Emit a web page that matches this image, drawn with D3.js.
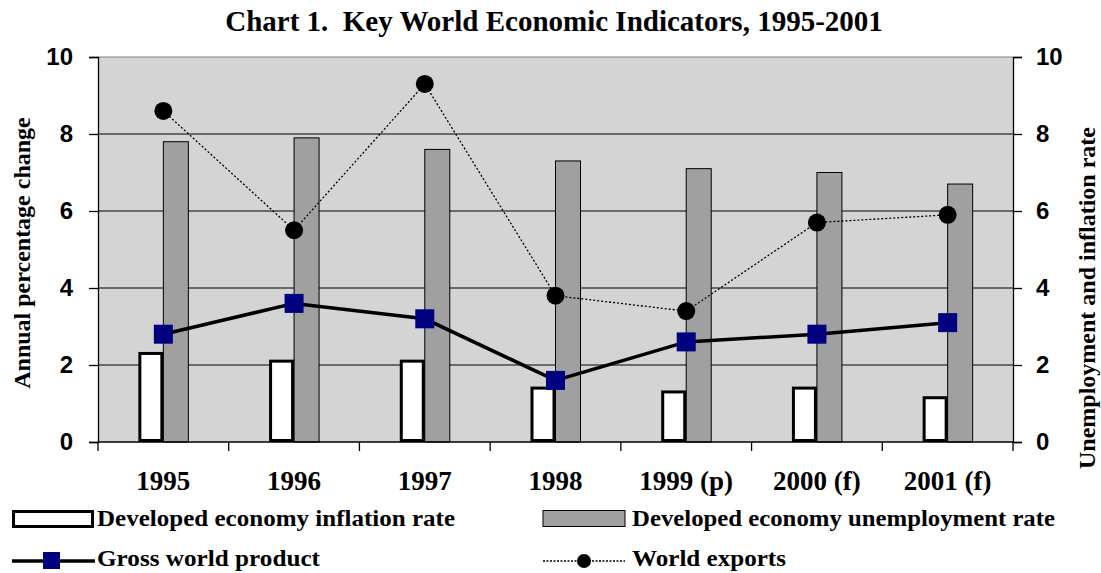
<!DOCTYPE html>
<html>
<head>
<meta charset="utf-8">
<script src="https://cdn.jsdelivr.net/npm/d3@7"></script>
<style>
  body { margin: 0; background: #fff; }
  text { font-weight: bold; }
</style>
</head>
<body>
<script>
const width = 1101;
const height = 573;

// data
const years = ["1995", "1996", "1997", "1998", "1999 (p)", "2000 (f)", "2001 (f)"];
const inflation = [2.3, 2.1, 2.1, 1.4, 1.3, 1.4, 1.15];
const unemployment = [7.8, 7.9, 7.6, 7.3, 7.1, 7.0, 6.7];
const gwp = [2.8, 3.6, 3.2, 1.6, 2.6, 2.8, 3.1];
const exportsGrowth = [8.6, 5.5, 9.3, 3.8, 3.4, 5.7, 5.9];
const yTicks = [0, 2, 4, 6, 8, 10];

const serif = "'Liberation Serif', 'Times New Roman', serif";
const sans = "'Liberation Sans', Arial, sans-serif";

const plot = { left: 98, right: 1013, top: 57, bottom: 442 };

const svg = d3.select("body")
    .append("svg")
    .attr("width", width)
    .attr("height", height);

const x = d3.scaleBand()
    .domain(years)
    .range([plot.left, plot.right]);

const y = d3.scaleLinear()
    .domain([0, 10])
    .range([plot.bottom, plot.top]);

// plot background
svg.append("rect")
    .attr("x", plot.left)
    .attr("y", plot.top)
    .attr("width", plot.right - plot.left)
    .attr("height", plot.bottom - plot.top)
    .attr("fill", "#d4d4d4");

svg.append("line")
    .attr("x1", plot.left).attr("x2", plot.right)
    .attr("y1", plot.top).attr("y2", plot.top)
    .attr("stroke", "#808080")
    .attr("stroke-width", 1);

// gridlines
svg.append("g")
    .selectAll("line")
    .data(yTicks.filter(d => d > 0 && d < 10))
    .enter()
    .append("line")
    .attr("x1", plot.left)
    .attr("x2", plot.right)
    .attr("y1", d => y(d))
    .attr("y2", d => y(d))
    .attr("stroke", "#000")
    .attr("stroke-width", 1);

const barW = 25;

// unemployment bars (grey, right of centre)
svg.append("g")
    .selectAll("rect")
    .data(unemployment)
    .enter()
    .append("rect")
    .attr("x", (d, i) => x(years[i]) + x.bandwidth() / 2)
    .attr("y", d => y(d))
    .attr("width", barW)
    .attr("height", d => plot.bottom - y(d))
    .attr("fill", "#a0a0a0")
    .attr("stroke", "#000")
    .attr("stroke-width", 1);

// inflation bars (white, left of centre)
svg.append("g")
    .selectAll("rect")
    .data(inflation)
    .enter()
    .append("rect")
    .attr("x", (d, i) => x(years[i]) + x.bandwidth() / 2 - barW + 1.5)
    .attr("y", d => y(d))
    .attr("width", barW - 3)
    .attr("height", d => plot.bottom - y(d) - 1.5)
    .attr("fill", "#fff")
    .attr("stroke", "#000")
    .attr("stroke-width", 3);

const cx = (d, i) => x(years[i]) + x.bandwidth() / 2;

// world exports: dotted line + circles
svg.append("path")
    .datum(exportsGrowth)
    .attr("fill", "none")
    .attr("stroke", "#000")
    .attr("stroke-width", 1.3)
    .attr("stroke-dasharray", "2,2")
    .attr("d", d3.line().x(cx).y(d => y(d)));

svg.append("g")
    .selectAll("circle")
    .data(exportsGrowth)
    .enter()
    .append("circle")
    .attr("cx", cx)
    .attr("cy", d => y(d))
    .attr("r", 9)
    .attr("fill", "#000");

// gross world product: thick line + squares
svg.append("path")
    .datum(gwp)
    .attr("fill", "none")
    .attr("stroke", "#000")
    .attr("stroke-width", 3.5)
    .attr("d", d3.line().x(cx).y(d => y(d)));

const sq = 19;
svg.append("g")
    .selectAll("rect")
    .data(gwp)
    .enter()
    .append("rect")
    .attr("x", (d, i) => cx(d, i) - sq / 2)
    .attr("y", d => y(d) - sq / 2)
    .attr("width", sq)
    .attr("height", sq)
    .attr("fill", "#000080");

// axes
const leftAxis = svg.append("g")
    .attr("transform", `translate(${plot.left},0)`)
    .call(d3.axisLeft(y).tickValues(yTicks).tickSize(9).tickPadding(16));

const rightAxis = svg.append("g")
    .attr("transform", `translate(${plot.right},0)`)
    .call(d3.axisRight(y).tickValues(yTicks).tickSize(9).tickPadding(14));

[leftAxis, rightAxis].forEach(a => {
    a.select(".domain").attr("stroke", "#000").attr("stroke-width", 1.3);
    a.selectAll(".tick line").attr("stroke", "#000").attr("stroke-width", 1.3);
    a.selectAll(".tick text")
        .attr("font-family", sans)
        .attr("font-size", 24)
        .attr("font-weight", "bold")
        .attr("fill", "#000");
});

// category axis
const bottomAxis = svg.append("g")
    .attr("transform", `translate(0,${plot.bottom})`);

bottomAxis.append("line")
    .attr("x1", plot.left).attr("x2", plot.right)
    .attr("y1", 0).attr("y2", 0)
    .attr("stroke", "#000").attr("stroke-width", 1.3);

bottomAxis.selectAll(".cat-tick")
    .data(years.concat(["end"]))
    .enter()
    .append("line")
    .attr("class", "cat-tick")
    .attr("x1", (d, i) => i < years.length ? x(d) : plot.right)
    .attr("x2", (d, i) => i < years.length ? x(d) : plot.right)
    .attr("y1", 0).attr("y2", 9)
    .attr("stroke", "#000").attr("stroke-width", 1.3);

bottomAxis.selectAll(".cat-label")
    .data(years)
    .enter()
    .append("text")
    .attr("class", "cat-label")
    .attr("x", d => x(d) + x.bandwidth() / 2)
    .attr("y", 48)
    .attr("text-anchor", "middle")
    .attr("font-family", serif)
    .attr("font-size", 27)
    .text(d => d);

// title
svg.append("text")
    .attr("x", 554)
    .attr("y", 31)
    .attr("text-anchor", "middle")
    .attr("font-family", serif)
    .attr("font-size", 29)
    .attr("xml:space", "preserve")
    .text("Chart 1.  Key World Economic Indicators, 1995-2001");

// axis titles
svg.append("text")
    .attr("transform", "translate(30,253) rotate(-90)")
    .attr("text-anchor", "middle")
    .attr("font-family", serif)
    .attr("font-size", 24)
    .text("Annual percentage change");

svg.append("text")
    .attr("transform", "translate(1095,298) rotate(-90)")
    .attr("text-anchor", "middle")
    .attr("font-family", serif)
    .attr("font-size", 24)
    .text("Unemployment and inflation rate");

// legend
const legend = svg.append("g");

legend.append("rect")
    .attr("x", 13.5).attr("y", 511.5)
    .attr("width", 79).attr("height", 15)
    .attr("fill", "#fff").attr("stroke", "#000").attr("stroke-width", 3);

legend.append("rect")
    .attr("x", 543).attr("y", 510.5)
    .attr("width", 82).attr("height", 16)
    .attr("fill", "#a0a0a0").attr("stroke", "#000").attr("stroke-width", 1);

legend.append("line")
    .attr("x1", 12).attr("x2", 95).attr("y1", 561).attr("y2", 561)
    .attr("stroke", "#000").attr("stroke-width", 3.5);
legend.append("rect")
    .attr("x", 43).attr("y", 552).attr("width", 17).attr("height", 17)
    .attr("fill", "#000080");

legend.append("line")
    .attr("x1", 543).attr("x2", 625).attr("y1", 561).attr("y2", 561)
    .attr("stroke", "#000").attr("stroke-width", 1.3)
    .attr("stroke-dasharray", "2,1.5");
legend.append("circle")
    .attr("cx", 584).attr("cy", 561).attr("r", 7)
    .attr("fill", "#000");

const legendItems = [
    { label: "Developed economy inflation rate", x: 97, y: 526, w: 358 },
    { label: "Developed economy unemployment rate", x: 632, y: 526, w: 423 },
    { label: "Gross world product", x: 97, y: 566, w: 223 },
    { label: "World exports", x: 632, y: 566, w: 154 }
];

legend.selectAll(".legend-label")
    .data(legendItems)
    .enter()
    .append("text")
    .attr("class", "legend-label")
    .attr("x", d => d.x)
    .attr("y", d => d.y)
    .attr("font-family", serif)
    .attr("font-size", 23)
    .attr("textLength", d => d.w)
    .attr("lengthAdjust", "spacingAndGlyphs")
    .text(d => d.label);
</script>
</body>
</html>
